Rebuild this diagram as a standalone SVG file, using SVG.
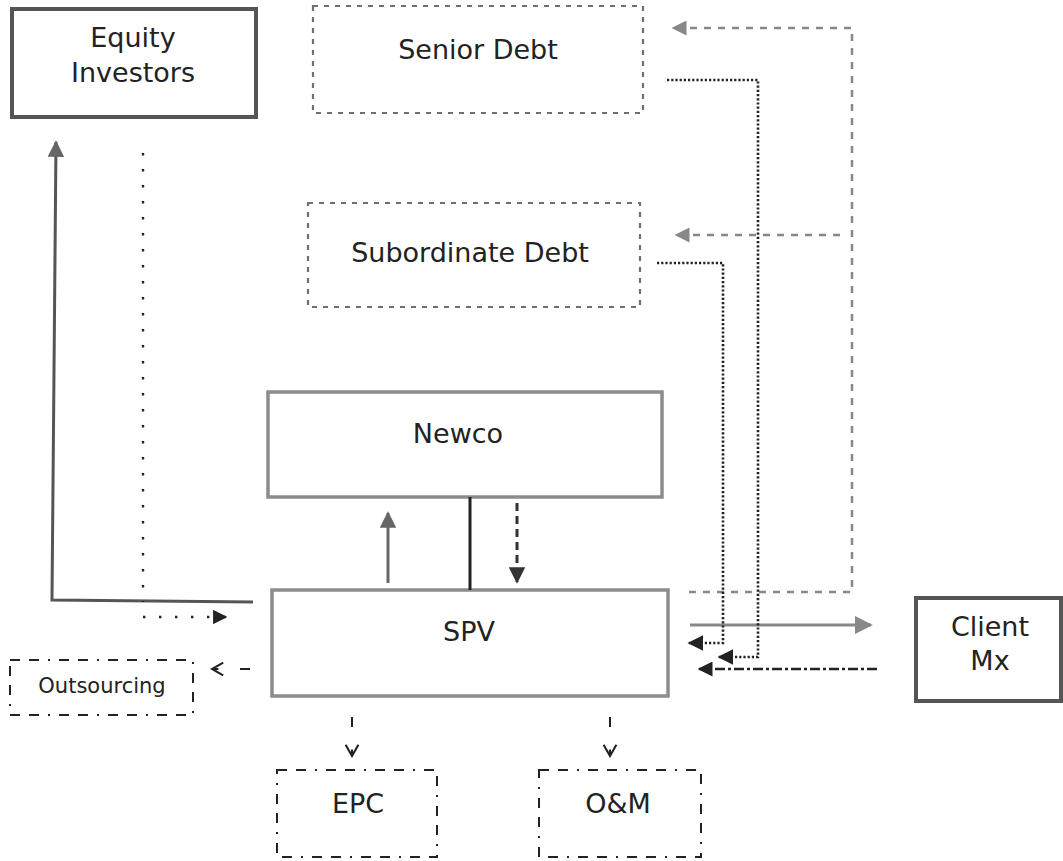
<svg xmlns="http://www.w3.org/2000/svg" width="1063" height="861" viewBox="0 0 1063 861">
<style>
text{font-family:"DejaVu Sans","Verdana",sans-serif;fill:#222;text-anchor:middle}
.big{font-size:27px}
.sm{font-size:21px}
.dark{fill:#fff;stroke:#555;stroke-width:4}
.light{fill:#fff;stroke:#8c8c8c;stroke-width:3.5}
.debt{fill:none;stroke:#707070;stroke-width:2.2;stroke-dasharray:5,6}
.dd{fill:none;stroke:#222;stroke-width:2;stroke-dasharray:10,9,10,9,2,9}
.gdash{fill:none;stroke:#888;stroke-width:2.5;stroke-dasharray:7,7}
.sq{fill:none;stroke:#222;stroke-width:2.6;stroke-dasharray:2.2,2}
.sparse{fill:none;stroke:#222;stroke-width:2.4;stroke-dasharray:2.4,13.6}
</style>
<defs>
<marker id="aGray" viewBox="0 0 10 10" refX="9" refY="5" markerWidth="5.5" markerHeight="5.5" orient="auto" markerUnits="strokeWidth"><path d="M0,0 L10,5 L0,10 z" fill="#666"/></marker>
<marker id="aLight" viewBox="0 0 10 10" refX="9" refY="5" markerWidth="6" markerHeight="6" orient="auto" markerUnits="strokeWidth"><path d="M0,0 L10,5 L0,10 z" fill="#888"/></marker>
<marker id="aBlack" viewBox="0 0 10 10" refX="9" refY="5" markerWidth="6" markerHeight="6" orient="auto" markerUnits="strokeWidth"><path d="M0,0 L10,5 L0,10 z" fill="#222"/></marker>
<marker id="aDark" viewBox="0 0 10 10" refX="9" refY="5" markerWidth="5.5" markerHeight="5.5" orient="auto" markerUnits="strokeWidth"><path d="M0,0 L10,5 L0,10 z" fill="#333"/></marker>
<marker id="aOpen" viewBox="0 0 10 10" refX="9" refY="5" markerWidth="8" markerHeight="8" orient="auto" markerUnits="strokeWidth"><path d="M2,1 L9,5 L2,9 M9,5 L5,5" fill="none" stroke="#222" stroke-width="1.3"/></marker>
</defs>

<g id="equity"><rect class="dark" x="12" y="9" width="244" height="108"/><text class="big" x="133" y="47">Equity</text><text class="big" x="133" y="82">Investors</text></g>
<g id="senior"><rect class="debt" x="313" y="6" width="330" height="107"/><text class="big" x="478" y="59">Senior Debt</text></g>
<g id="subordinate"><rect class="debt" x="308" y="203" width="332" height="104"/><text class="big" x="470" y="262">Subordinate Debt</text></g>
<g id="newco"><rect class="light" x="268" y="392" width="394" height="105"/><text class="big" x="458" y="443">Newco</text></g>
<g id="spv"><rect class="light" x="272" y="590" width="396" height="106"/><text class="big" x="469" y="641">SPV</text></g>
<g id="client"><rect class="dark" x="916" y="598" width="145" height="103"/><text class="big" x="990" y="636">Client</text><text class="big" x="990" y="670">Mx</text></g>
<g id="outsourcing"><rect class="dd" x="10" y="660" width="183" height="55"/><text class="sm" x="102" y="693">Outsourcing</text></g>
<g id="epc"><rect class="dd" x="277" y="770" width="160" height="87"/><text class="big" x="358" y="813">EPC</text></g>
<g id="om"><rect class="dd" x="539" y="770" width="162" height="87"/><text class="big" x="618" y="813">O&amp;M</text></g>

<g id="connectors">
<path d="M253,602 L52,600 L56,142" fill="none" stroke="#555" stroke-width="3" marker-end="url(#aGray)"/>
<path class="sparse" d="M143,153 L143,602"/>
<path class="sparse" d="M143,617 L226,617" marker-end="url(#aBlack)"/>
<path d="M388,583 L388,513" fill="none" stroke="#666" stroke-width="3" marker-end="url(#aGray)"/>
<path d="M470,497 L470,590" fill="none" stroke="#222" stroke-width="3"/>
<path d="M517,503 L517,582" fill="none" stroke="#333" stroke-width="3" stroke-dasharray="8,5" marker-end="url(#aDark)"/>
<path d="M250,669 L212,669" fill="none" stroke="#222" stroke-width="2" stroke-dasharray="10,40" marker-end="url(#aOpen)"/>
<path d="M352,717 L352,756" fill="none" stroke="#222" stroke-width="2" stroke-dasharray="10,40" marker-end="url(#aOpen)"/>
<path d="M610,717 L610,756" fill="none" stroke="#222" stroke-width="2" stroke-dasharray="10,40" marker-end="url(#aOpen)"/>
<path d="M690,625 L871,625" fill="none" stroke="#888" stroke-width="3" marker-end="url(#aLight)"/>
<path class="gdash" d="M689,592 L852,592 L852,28 L673,28" marker-end="url(#aLight)"/>
<path class="gdash" d="M840,235 L676,235" marker-end="url(#aLight)"/>
<path class="sq" d="M667,80 L758,80 L758,657 L719,657" marker-end="url(#aBlack)"/>
<path class="sq" d="M657,263 L723,263 L723,643 L689,643" marker-end="url(#aBlack)"/>
<path d="M877,669 L699,669" fill="none" stroke="#222" stroke-width="2.5" stroke-dasharray="10,3,3,3" marker-end="url(#aBlack)"/>
</g>
</svg>
